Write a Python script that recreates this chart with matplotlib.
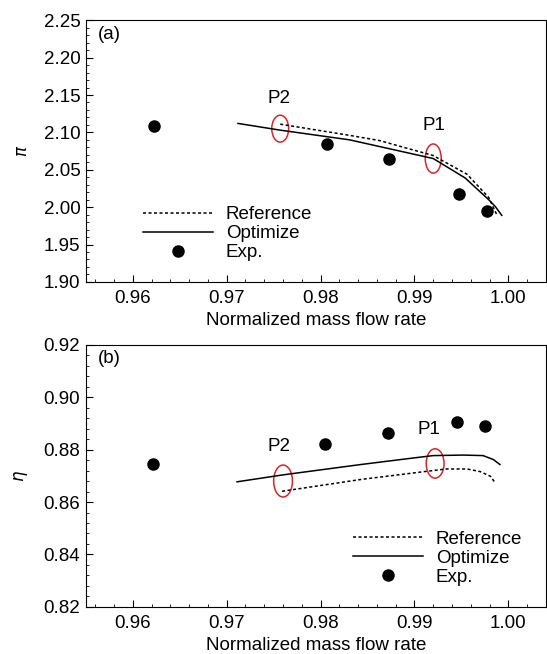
import matplotlib
matplotlib.use("Agg")
import matplotlib.pyplot as plt
from matplotlib.patches import Ellipse
from matplotlib.ticker import MultipleLocator

plt.rcParams['font.family'] = ['Liberation Sans', 'DejaVu Sans']
plt.rcParams['font.size'] = 13.5

# (a) pressure ratio
exp_x_a = [0.9623, 0.9807, 0.9873, 0.9947, 0.9977]
exp_y_a = [2.108, 2.084, 2.064, 2.017, 1.995]
opt_x_a = [0.9712, 0.9757, 0.9831, 0.9920, 0.9954, 0.9979, 0.9986, 0.9993]
opt_y_a = [2.112, 2.103, 2.090, 2.065, 2.039, 2.010, 2.001, 1.989]
ref_x_a = [0.9757, 0.9831, 0.9863, 0.9920, 0.9956, 0.9979, 0.9988]
ref_y_a = [2.111, 2.096, 2.089, 2.069, 2.044, 2.013, 1.989]

# (b) efficiency
exp_x_b = [0.9622, 0.9805, 0.9872, 0.9945, 0.9975]
exp_y_b = [0.8746, 0.8820, 0.8865, 0.8904, 0.8891]
opt_x_b = [0.9711, 0.9761, 0.9843, 0.9899, 0.9920, 0.9952, 0.9973, 0.9984, 0.9991]
opt_y_b = [0.8677, 0.8704, 0.8743, 0.8768, 0.8777, 0.8779, 0.8777, 0.8762, 0.8743]
ref_x_b = [0.9759, 0.9843, 0.9913, 0.9934, 0.9956, 0.9970, 0.9981, 0.9986]
ref_y_b = [0.8641, 0.8686, 0.8717, 0.8726, 0.8726, 0.8716, 0.8698, 0.8673]

fig = plt.figure(figsize=(5.47, 6.54), dpi=100)
ax1 = fig.add_axes([0.157, 0.569, 0.841, 0.400])
ax2 = fig.add_axes([0.157, 0.072, 0.841, 0.401])

dash = (0, (2, 1.6))


def style(ax):
    ax.set_xlim(0.955, 1.004)
    ax.xaxis.set_major_locator(MultipleLocator(0.01))
    ax.xaxis.set_minor_locator(MultipleLocator(0.002))
    ax.tick_params(which='both', direction='in', top=False, right=False)
    ax.tick_params(which='major', length=5)
    ax.tick_params(which='minor', length=2.5)
    ax.tick_params(axis='x', pad=5.5)
    ax.tick_params(axis='y', pad=4)
    ax.xaxis.set_major_formatter(plt.FuncFormatter(lambda v, p: f"{v:.2f}"))
    ax.set_xlabel("Normalized mass flow rate", labelpad=4)


style(ax1)
ax1.set_ylim(1.90, 2.25)
ax1.yaxis.set_major_locator(MultipleLocator(0.05))
ax1.yaxis.set_minor_locator(MultipleLocator(0.01))
ax1.yaxis.set_major_formatter(plt.FuncFormatter(lambda v, p: f"{v:.2f}"))
ax1.set_ylabel(r"$\pi$", labelpad=10, fontsize=12)
ax1.plot(ref_x_a, ref_y_a, color='k', ls=dash, lw=1.1, label="Reference")
ax1.plot(opt_x_a, opt_y_a, 'k-', lw=1.1, label="Optimize")
ax1.plot(exp_x_a, exp_y_a, 'ko', ms=8, ls='none', label="Exp.")
ax1.add_patch(Ellipse((0.9757, 2.105), 0.0018, 0.036, fill=False, ec='#d62728', lw=1.1))
ax1.add_patch(Ellipse((0.9920, 2.065), 0.0017, 0.039, fill=False, ec='#d62728', lw=1.1))
ax1.text(0.9756, 2.145, "P2", ha='center', va='center')
ax1.text(0.9921, 2.109, "P1", ha='center', va='center')
ax1.text(0.9575, 2.231, "(a)", ha='center', va='center')
ax1.legend(loc='upper left', bbox_to_anchor=(0.125, 0.29), frameon=False,
           handlelength=3.7, handletextpad=0.7, labelspacing=0.1, borderpad=0,
           borderaxespad=0)

style(ax2)
ax2.set_ylim(0.82, 0.92)
ax2.yaxis.set_major_locator(MultipleLocator(0.02))
ax2.yaxis.set_minor_locator(MultipleLocator(0.004))
ax2.yaxis.set_major_formatter(plt.FuncFormatter(lambda v, p: f"{v:.2f}"))
ax2.set_ylabel(r"$\eta$", labelpad=10, fontsize=12)
ax2.plot(ref_x_b, ref_y_b, color='k', ls=dash, lw=1.1, label="Reference")
ax2.plot(opt_x_b, opt_y_b, 'k-', lw=1.1, label="Optimize")
ax2.plot(exp_x_b, exp_y_b, 'ko', ms=8, ls='none', label="Exp.")
ax2.add_patch(Ellipse((0.9760, 0.8680), 0.0020, 0.0122, fill=False, ec='#d62728', lw=1.1))
ax2.add_patch(Ellipse((0.9922, 0.8747), 0.0019, 0.0112, fill=False, ec='#d62728', lw=1.1))
ax2.text(0.9756, 0.8812, "P2", ha='center', va='center')
ax2.text(0.9915, 0.8876, "P1", ha='center', va='center')
ax2.text(0.9575, 0.9148, "(b)", ha='center', va='center')
ax2.legend(loc='upper left', bbox_to_anchor=(0.581, 0.29), frameon=False,
           handlelength=3.7, handletextpad=0.7, labelspacing=0.1, borderpad=0,
           borderaxespad=0)

fig.savefig("out.png", dpi=100)
